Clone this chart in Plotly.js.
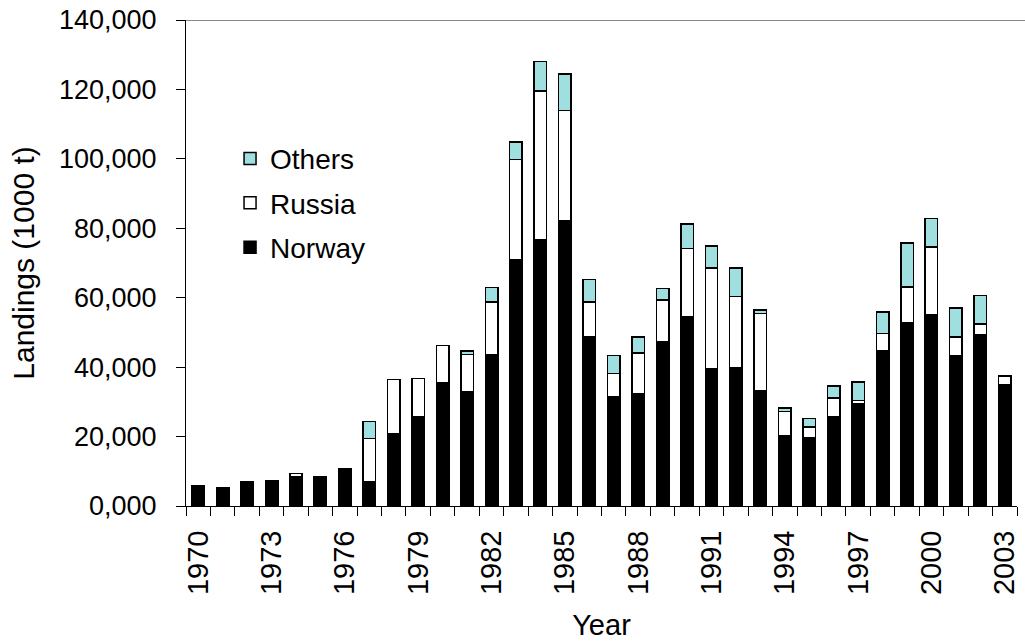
<!DOCTYPE html>
<html>
<head>
<meta charset="utf-8">
<script src="https://cdn.plot.ly/plotly-3.0.1.min.js"></script>
<style>html,body{margin:0;padding:0;background:#fff;}#chart{width:1025px;height:643px;}</style>
</head>
<body>
<div id="chart"></div>
<script>
// Landings in 1000 t
const years = [1970,1971,1972,1973,1974,1975,1976,1977,1978,1979,1980,1981,1982,1983,1984,1985,1986,1987,1988,1989,1990,1991,1992,1993,1994,1995,1996,1997,1998,1999,2000,2001,2002,2003];
const norway = [5.8,5.3,7.0,7.3,8.5,8.5,10.6,7.1,20.8,25.6,35.4,32.8,43.7,71.0,76.8,82.3,48.9,31.6,32.2,47.4,54.4,39.6,39.8,33.3,20.3,19.7,25.6,29.5,44.8,52.8,55.1,43.3,49.2,34.9];
const russia = [0,0,0,0,0.8,0,0,12.3,15.7,11.2,10.9,10.9,15.1,28.8,42.8,31.7,9.9,6.5,11.9,11.9,19.8,29.0,20.6,22.1,6.9,3.0,5.5,0.9,4.9,10.3,19.5,5.4,3.3,2.6];
const others = [0,0,0,0,0,0,0,5.0,0,0,0,1.0,4.1,5.1,8.4,10.4,6.5,5.3,4.6,3.4,7.0,6.3,8.2,1.0,1.1,2.5,3.4,5.3,6.2,12.6,8.2,8.3,8.2,0];
const tickYears = [1970,1973,1976,1979,1982,1985,1988,1991,1994,1997,2000,2003];
const tickLabels = tickYears.map(String);

const font = 'Liberation Sans, Arial, sans-serif';
const line = {color: '#000', width: 1.5};
const traces = [
  {type: 'bar', name: 'Norway', x: years, y: norway, legendgroup: 'n', legendrank: 3, marker: {color: '#000000', line: line}},
  {type: 'bar', name: 'Russia', x: years, y: russia, legendgroup: 'r', legendrank: 2, marker: {color: '#FFFFFF', line: line}},
  {type: 'bar', name: 'Others', x: years, y: others, legendgroup: 'o', legendrank: 1, marker: {color: '#A0DFDF', line: line}}
];
const layout = {
  width: 1025, height: 643,
  margin: {l: 186, r: 8, t: 20, b: 137, pad: 0},
  paper_bgcolor: '#fff', plot_bgcolor: '#fff',
  barmode: 'stack', bargap: 0.49,
  separators: ',.',
  font: {family: font, color: '#000', size: 27},
  showlegend: true,
  legend: {x: 0.053, xanchor: 'left', y: 0.766, yanchor: 'top', traceorder: 'grouped', tracegroupgap: 5,
           font: {family: font, size: 28, color: '#000'}, bgcolor: 'rgba(0,0,0,0)'},
  xaxis: {
    type: 'linear', range: [1969.5, 2003.5], fixedrange: true,
    tickmode: 'array', tickvals: tickYears, ticktext: tickLabels, ticks: '', tickangle: -90,
    ticklabeloverflow: 'allow',
    tickfont: {family: font, size: 29, color: '#000'}, ticklabelstandoff: 12,
    minor: {tickmode: 'linear', tick0: 1969.5, dtick: 1, ticks: 'outside', ticklen: 9, tickcolor: '#000', tickwidth: 1, showgrid: false},
    showline: true, linecolor: '#000', linewidth: 1, showgrid: false, zeroline: false,
    title: {text: 'Year', font: {family: font, size: 29, color: '#000'}, standoff: 20}
  },
  yaxis: {
    range: [0, 140], dtick: 20, tick0: 0, tickformat: ',.3f', fixedrange: true,
    ticks: 'outside', ticklen: 9, tickcolor: '#000', tickwidth: 1,
    tickfont: {family: font, size: 27, color: '#000'}, ticklabelstandoff: 14,
    showline: true, linecolor: '#000', linewidth: 1, showgrid: false, zeroline: false,
    title: {text: 'Landings (1000 t)', font: {family: font, size: 30, color: '#000'}, standoff: 15}
  },
  shapes: [{type: 'line', xref: 'paper', yref: 'y', x0: 0, x1: 1.012, y0: 140, y1: 140, line: {color: '#888', width: 2}}]
};
Plotly.newPlot('chart', traces, layout, {staticPlot: true, displayModeBar: false});
</script>
</body>
</html>
